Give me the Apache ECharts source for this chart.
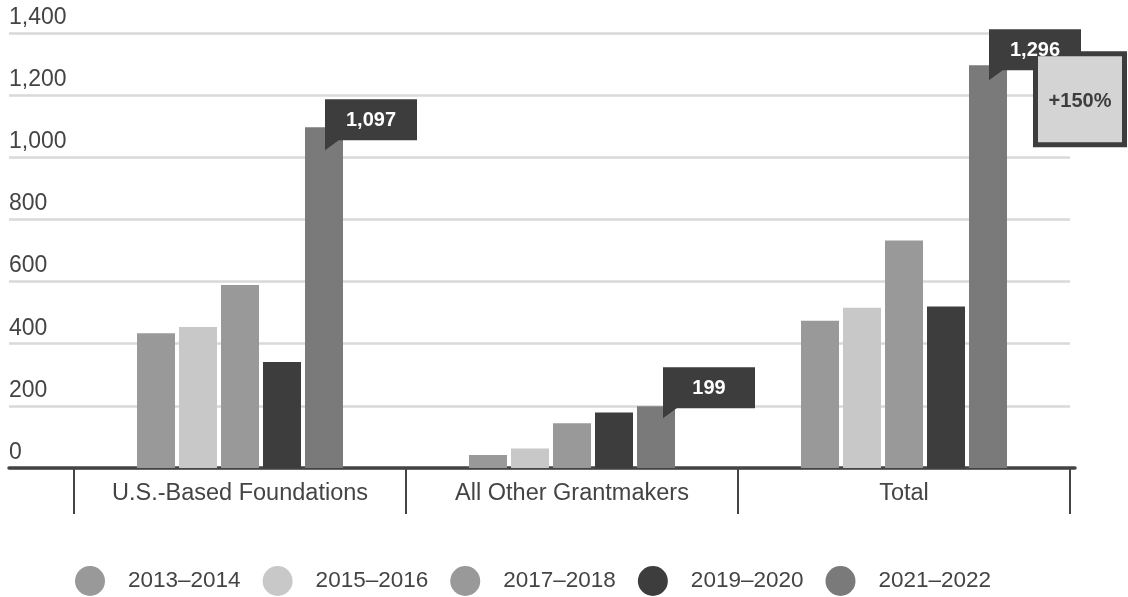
<!DOCTYPE html>
<html><head><meta charset="utf-8">
<script src="https://cdn.jsdelivr.net/npm/echarts/dist/echarts.min.js"></script>
<style>html,body{margin:0;padding:0;background:#fff}#c{width:1128px;height:597px}</style>
</head><body><div id="c"></div><script>
// ---- data ----
const categories = ['U.S.-Based Foundations', 'All Other Grantmakers', 'Total'];
const periods = ['2013–2014', '2015–2016', '2017–2018', '2019–2020', '2021–2022'];
const v2013 = [434, 42, 474];
const v2015 = [454, 63, 516];
const v2017 = [589, 144, 732];
const v2019 = [341, 179, 520];
const v2021 = [1097, 199, 1296];
const changeLabels = ['', '', '+150%'];
const yMin = 0, yMax = 1400, yStep = 200;

// ---- styles ----
const colors = ['#999999', '#c8c8c8', '#999999', '#3d3d3d', '#7a7a7a'];
const FONT = '"Liberation Sans", Arial, Helvetica, sans-serif';
const TXT = '#444444';
const BAR_W = 38, BAR_GAP = 4;
const calloutLayout = [{dx: 3, dy: -28}, {dx: 9, dy: -39}, {dx: 3, dy: -36}];
const fmt = v => Number(v).toLocaleString('en-US');

const seriesValues = [v2013, v2015, v2017, v2019, v2021];
const chart = echarts.init(document.getElementById('c'), null, {renderer: 'canvas'});

const barSeries = periods.map((p, k) => ({
  name: p, type: 'bar', xAxisIndex: 1, yAxisIndex: 1,
  data: seriesValues[k], barWidth: BAR_W, barGap: (BAR_GAP / BAR_W * 100) + '%',
  itemStyle: {color: colors[k]}, silent: true, z: 2
}));

const calloutSeries = {
  type: 'custom', xAxisIndex: 1, yAxisIndex: 1, silent: true, z: 5,
  data: v2021.map((v, i) => [i, v]),
  renderItem: function (params, api) {
    const i = api.value(0), v = api.value(1);
    const pt = api.coord([i, v]);
    const barCx = pt[0] + 2 * (BAR_W + BAR_GAP) - 2;
    const L = calloutLayout[i];
    const x = barCx + L.dx, y = pt[1] + L.dy;
    const w = 92, h = 41;
    const children = [
      {type: 'rect', shape: {x: x, y: y, width: w, height: h}, style: {fill: '#3d3d3d'}},
      {type: 'polygon', shape: {points: [[x, y + h - 1], [x + 15, y + h - 1], [x, y + h + 10]]}, style: {fill: '#3d3d3d'}}
    ];
    if (changeLabels[i]) {
      const bx = barCx + 47, by = pt[1] - 14, bw = 94, bh = 96;
      children.push({type: 'rect', shape: {x: bx + 2.5, y: by + 2.5, width: bw - 5, height: bh - 5}, style: {fill: '#d4d4d4', stroke: '#3d3d3d', lineWidth: 5}});
      children.push({type: 'text', style: {text: changeLabels[i], x: bx + bw / 2, y: by + bh / 2 + 2, align: 'center', verticalAlign: 'middle', fill: '#3d3d3d', font: 'bold 20px ' + FONT}});
    }
    children.push({type: 'text', style: {text: fmt(v), x: x + w / 2, y: y + h / 2 + 1, align: 'center', verticalAlign: 'middle', fill: '#ffffff', font: 'bold 20px ' + FONT}});
    return {type: 'group', children: children};
  }
};

const option = {
  animation: false,
  backgroundColor: '#ffffff',
  grid: [
    {left: 9, right: 58, top: 33, bottom: 129},
    {left: 74, right: 58, top: 33, bottom: 129},
    {left: 9, right: 53, top: 33, bottom: 129}
  ],
  xAxis: [
    {gridIndex: 0, type: 'value', min: 0, max: 1, show: false},
    {gridIndex: 1, type: 'category', data: categories, offset: 2,
      axisLine: {show: false},
      axisTick: {show: true, interval: 0, length: 46, lineStyle: {color: TXT, width: 2}},
      axisLabel: {interval: 0, color: TXT, fontSize: 23.5, fontFamily: FONT, margin: 12}},
    {gridIndex: 2, type: 'value', min: 0, max: 1, offset: 2,
      axisLine: {show: true, lineStyle: {color: TXT, width: 3.5}},
      axisTick: {show: false}, axisLabel: {show: false}, splitLine: {show: false}}
  ],
  yAxis: [
    {gridIndex: 0, type: 'value', min: yMin, max: yMax, interval: yStep,
      axisLine: {show: false}, axisTick: {show: false},
      splitLine: {show: true, lineStyle: {color: '#d9d9d9', width: 2.5}},
      axisLabel: {inside: true, align: 'left', verticalAlign: 'bottom', margin: 0,
        padding: [0, 0, 4, 0], color: TXT, fontSize: 23, fontFamily: FONT, formatter: fmt}},
    {gridIndex: 1, type: 'value', min: yMin, max: yMax, interval: yStep, show: false, splitLine: {show: false}},
    {gridIndex: 2, type: 'value', min: yMin, max: yMax, show: false, splitLine: {show: false}}
  ],
  legend: {
    data: periods, left: 75, top: 566, padding: 0,
    icon: 'circle', itemWidth: 30, itemHeight: 30, itemGap: 22,
    textStyle: {color: TXT, fontSize: 22.5, fontFamily: FONT, padding: [0, 0, 0, 18]},
    selectedMode: false
  },
  series: barSeries.concat([calloutSeries])
};
chart.setOption(option);
</script></body></html>
